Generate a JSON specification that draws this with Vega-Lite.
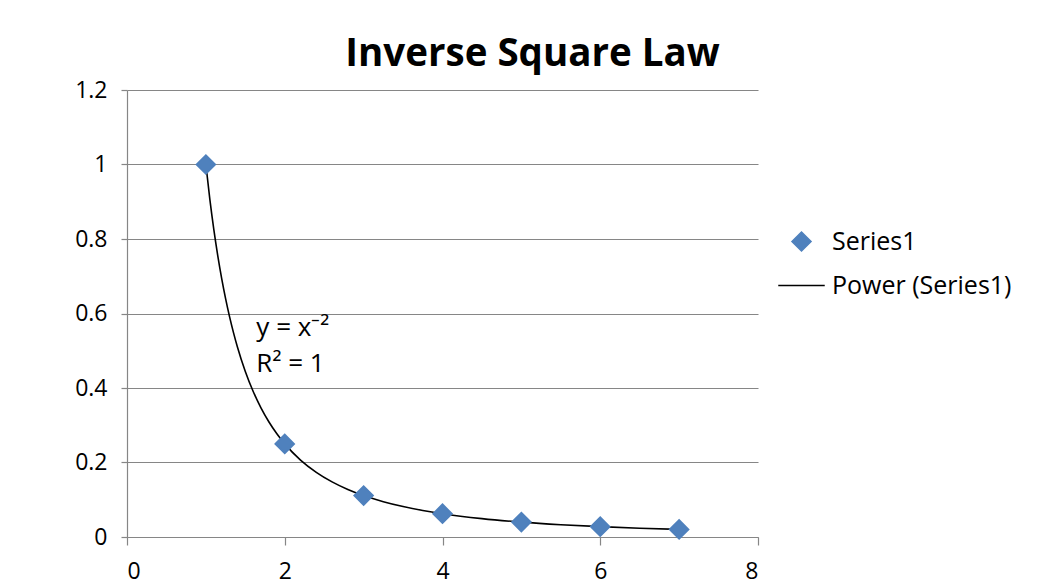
{
  "$schema": "https://vega.github.io/schema/vega-lite/v6.json",
  "width": 631,
  "height": 447,
  "autosize": {"type": "none"},
  "padding": {"left": 127, "top": 90, "right": 286, "bottom": 50},
  "background": "white",
  "title": {
    "text": "Inverse Square Law",
    "fontSize": 38.5,
    "fontWeight": "bold",
    "font": "Open Sans",
    "color": "black",
    "anchor": "middle",
    "dx": 90,
    "offset": 5
  },
  "config": {
    "view": {"stroke": null},
    "font": "Open Sans",
    "axis": {
      "labelFont": "Open Sans",
      "labelFontSize": 23,
      "labelColor": "black",
      "domainColor": "#868686",
      "tickColor": "#868686",
      "gridColor": "#868686",
      "domainWidth": 1.2,
      "tickWidth": 1.2,
      "gridWidth": 1.2,
      "title": null
    }
  },
  "layer": [
    {
      "data": {
        "values": [
          {"x": 1, "y": 1},
          {"x": 1.05, "y": 0.907029},
          {"x": 1.1, "y": 0.826446},
          {"x": 1.15, "y": 0.756144},
          {"x": 1.2, "y": 0.694444},
          {"x": 1.25, "y": 0.64},
          {"x": 1.3, "y": 0.591716},
          {"x": 1.35, "y": 0.548697},
          {"x": 1.4, "y": 0.510204},
          {"x": 1.5, "y": 0.444444},
          {"x": 1.6, "y": 0.390625},
          {"x": 1.7, "y": 0.346021},
          {"x": 1.8, "y": 0.308642},
          {"x": 1.9, "y": 0.277008},
          {"x": 2, "y": 0.25},
          {"x": 2.2, "y": 0.206612},
          {"x": 2.4, "y": 0.173611},
          {"x": 2.6, "y": 0.147929},
          {"x": 2.8, "y": 0.127551},
          {"x": 3, "y": 0.111111},
          {"x": 3.25, "y": 0.094675},
          {"x": 3.5, "y": 0.081633},
          {"x": 3.75, "y": 0.071111},
          {"x": 4, "y": 0.0625},
          {"x": 4.5, "y": 0.049383},
          {"x": 5, "y": 0.04},
          {"x": 5.5, "y": 0.033058},
          {"x": 6, "y": 0.027778},
          {"x": 6.5, "y": 0.023669},
          {"x": 7, "y": 0.020408}
        ]
      },
      "mark": {"type": "line", "color": "black", "strokeWidth": 1.6, "interpolate": "monotone"},
      "encoding": {
        "x": {
          "field": "x", "type": "quantitative",
          "scale": {"domain": [0, 8], "nice": false},
          "axis": {"values": [0, 2, 4, 6, 8], "format": "~g", "grid": false, "tickSize": 8, "labelPadding": 15}
        },
        "y": {
          "field": "y", "type": "quantitative",
          "scale": {"domain": [0, 1.2], "nice": false},
          "axis": {"values": [0, 0.2, 0.4, 0.6, 0.8, 1, 1.2], "format": "~g", "grid": true, "tickSize": 6, "labelPadding": 14}
        }
      }
    },
    {
      "data": {
        "values": [
          {"x": 1, "y": 1, "series": "Series1"},
          {"x": 2, "y": 0.25, "series": "Series1"},
          {"x": 3, "y": 0.111111, "series": "Series1"},
          {"x": 4, "y": 0.0625, "series": "Series1"},
          {"x": 5, "y": 0.04, "series": "Series1"},
          {"x": 6, "y": 0.027778, "series": "Series1"},
          {"x": 7, "y": 0.020408, "series": "Series1"}
        ]
      },
      "mark": {"type": "point", "filled": true, "size": 360, "opacity": 1, "strokeWidth": 1.6},
      "encoding": {
        "x": {"field": "x", "type": "quantitative"},
        "y": {"field": "y", "type": "quantitative"},
        "fill": {
          "field": "series", "type": "nominal",
          "scale": {"domain": ["Series1", "Power (Series1)"], "range": ["#4F81BD", "transparent"]},
          "legend": {
            "title": null,
            "orient": "none",
            "legendX": 662,
            "legendY": 139,
            "labelFont": "Open Sans",
            "labelFontSize": 25,
            "labelColor": "black",
            "labelOffset": 18,
            "labelLimit": 400,
            "rowPadding": 18,
            "symbolSize": 360,
            "symbolStrokeWidth": 1.6
          }
        },
        "stroke": {
          "field": "series", "type": "nominal",
          "scale": {"domain": ["Series1", "Power (Series1)"], "range": ["#4F81BD", "black"]}
        },
        "shape": {
          "field": "series", "type": "nominal",
          "scale": {"domain": ["Series1", "Power (Series1)"], "range": ["diamond", "M-2.45,0H2.45"]}
        }
      }
    },
    {
      "data": {"values": [{}]},
      "mark": {"type": "text", "align": "left", "baseline": "alphabetic", "fontSize": 26, "font": "Open Sans", "lineHeight": 36, "color": "black"},
      "encoding": {
        "x": {"datum": 1.64},
        "y": {"datum": 0.54},
        "text": {"value": ["y = x⁻²", "R² = 1"]}
      }
    }
  ]
}
